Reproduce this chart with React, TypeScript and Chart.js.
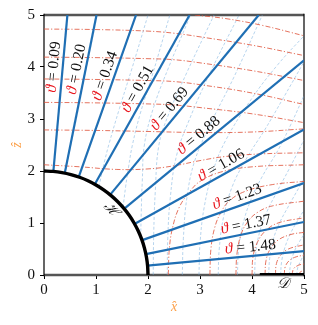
import React, { useEffect, useRef } from 'react';
import { Chart, registerables } from 'chart.js';
Chart.register(...registerables);

// ---- data ----
const X_TICKS = [0, 1, 2, 3, 4, 5];
const Y_TICKS = [0, 1, 2, 3, 4, 5];
const THETA = [0.09, 0.2, 0.34, 0.51, 0.69, 0.88, 1.06, 1.23, 1.37, 1.48];
const THETA_TEXT = ['0.09', '0.20', '0.34', '0.51', '0.69', '0.88', '1.06', '1.23', '1.37', '1.48'];
const RAY_X0 = [0.18, 0.4, 0.67, 0.98, 1.27, 1.54, 1.74, 1.89, 1.96, 1.99];
const RAY_Y0 = [1.99, 1.96, 1.89, 1.75, 1.54, 1.27, 0.98, 0.67, 0.4, 0.18];
const RAY_X1 = [0.45, 1.01, 1.77, 2.8, 4.13, 5, 5, 5, 5, 5];
const RAY_Y1 = [5, 5, 5, 5, 5, 4.13, 2.8, 1.77, 1.02, 0.46];

const HORIZON_X = [0, 0.1743, 0.3473, 0.5176, 0.684, 0.8452, 1.0, 1.1472, 1.2856, 1.4142, 1.5321, 1.6383, 1.7321, 1.8126, 1.8794, 1.9319, 1.9696, 1.9924, 2];
const HORIZON_Y = [2, 1.9924, 1.9696, 1.9319, 1.8794, 1.8126, 1.7321, 1.6383, 1.5321, 1.4142, 1.2856, 1.1472, 1.0, 0.8452, 0.684, 0.5176, 0.3473, 0.1743, 0];
const DISK_X = [4.15, 5];
const DISK_Y = [0, 0];

type P = [number, number];
// red dash-dot curves (upper family)
const RED_A0: P[] = [[2.9, 5.0], [3.5, 4.93], [4.2, 4.8], [5, 4.6]];
const RED_A1: P[] = [[0, 4.73], [1, 4.72], [2, 4.69], [2.5, 4.65], [3, 4.58], [4, 4.42], [5, 4.22]];
const RED_A2: P[] = [[0, 4.19], [1, 4.18], [2, 4.16], [2.5, 4.14], [3, 4.08], [4, 3.93], [5, 3.74]];
const RED_A3: P[] = [[0, 3.77], [1, 3.76], [2, 3.74], [2.5, 3.72], [3, 3.66], [4, 3.5], [5, 3.28]];
const RED_A4: P[] = [[0, 3.32], [1, 3.31], [2, 3.29], [2.5, 3.27], [3, 3.22], [4, 3.1], [5, 2.93]];
const RED_A5: P[] = [[0, 2.79], [1, 2.78], [2, 2.76], [3, 2.74], [4, 2.75], [5, 2.81]];
const RED_A6: P[] = [[0, 2.12], [0.7, 2.08], [1.4, 2.03], [2, 2.04], [2.5, 2.1], [3, 2.2], [3.5, 2.28], [4.2, 2.33], [5, 2.35]];
// red dash-dot curves (lower-right family)
const RED_B1: P[] = [[2.39, 0], [2.41, 0.5], [2.47, 0.9], [2.6, 1.3], [2.8, 1.6], [3.0, 1.8], [3.4, 1.98], [4.0, 2.08], [5, 2.12]];
const RED_B2: P[] = [[3.19, 0], [3.21, 0.5], [3.28, 0.9], [3.4, 1.2], [3.58, 1.44], [3.9, 1.62], [4.4, 1.74], [5, 1.8]];
const RED_B3: P[] = [[3.69, 0], [3.71, 0.4], [3.78, 0.75], [3.9, 1.0], [4.1, 1.2], [4.4, 1.33], [5, 1.42]];
const RED_B4: P[] = [[4.0, 0], [4.02, 0.35], [4.1, 0.62], [4.25, 0.84], [4.5, 1.0], [5, 1.1]];
const RED_B5: P[] = [[4.25, 0], [4.27, 0.28], [4.35, 0.5], [4.5, 0.67], [4.75, 0.78], [5, 0.82]];
const RED_B6: P[] = [[4.45, 0], [4.47, 0.22], [4.55, 0.38], [4.7, 0.5], [5, 0.58]];
const RED_B7: P[] = [[4.62, 0], [4.64, 0.16], [4.72, 0.28], [4.85, 0.35], [5, 0.38]];
const RED_B8: P[] = [[4.77, 0], [4.8, 0.12], [4.9, 0.19], [5, 0.21]];
const RED_B9: P[] = [[4.9, 0], [4.93, 0.06], [5, 0.08]];
// light-blue dashed curves
const BLUE_D1: P[] = [[1.06, 1.7], [1.12, 2.0], [1.17, 2.21], [1.25, 2.52], [1.45, 3.2], [1.7, 4.0], [2.0, 5.0]];
const BLUE_D2: P[] = [[1.52, 1.3], [1.57, 1.7], [1.63, 2.1], [1.7, 2.5], [1.85, 3.1], [2.1, 3.9], [2.42, 5.0]];
const BLUE_D3: P[] = [[1.86, 0.74], [1.87, 1.2], [1.89, 1.8], [1.93, 2.5], [2.1, 3.2], [2.4, 4.0], [2.82, 5.0]];
const BLUE_D4: P[] = [[2.1, 0], [2.11, 0.8], [2.14, 1.6], [2.21, 2.5], [2.4, 3.1], [2.75, 3.9], [3.27, 5.0]];
const BLUE_D5: P[] = [[2.37, 0], [2.38, 0.7], [2.43, 1.5], [2.55, 2.3], [2.8, 3.0], [3.2, 3.9], [3.75, 5.0]];
const BLUE_D6: P[] = [[2.66, 0], [2.68, 0.7], [2.75, 1.5], [2.9, 2.2], [3.2, 2.9], [3.65, 3.8], [4.2, 5.0]];
const BLUE_D7: P[] = [[2.98, 0], [3.0, 0.6], [3.08, 1.3], [3.25, 2.0], [3.5, 2.6], [4.0, 3.4], [4.5, 4.05], [5, 4.6]];
const BLUE_D8: P[] = [[3.35, 0], [3.37, 0.5], [3.45, 1.1], [3.62, 1.7], [3.9, 2.25], [4.25, 2.8], [4.6, 3.4], [5, 4.1]];
const BLUE_D9: P[] = [[3.72, 0], [3.74, 0.45], [3.82, 0.95], [3.98, 1.45], [4.2, 1.9], [4.5, 2.4], [4.75, 2.9], [5, 3.45]];
const BLUE_D10: P[] = [[4.05, 0], [4.07, 0.4], [4.14, 0.8], [4.28, 1.2], [4.48, 1.6], [4.72, 2.05], [5, 2.6]];
const BLUE_D11: P[] = [[4.32, 0], [4.34, 0.32], [4.4, 0.65], [4.52, 0.98], [4.7, 1.32], [5, 1.85]];
const BLUE_D12: P[] = [[4.55, 0], [4.57, 0.26], [4.63, 0.52], [4.74, 0.8], [4.88, 1.05], [5, 1.25]];
const BLUE_D13: P[] = [[4.72, 0], [4.74, 0.2], [4.8, 0.42], [4.9, 0.62], [5, 0.78]];
const BLUE_D14: P[] = [[4.86, 0], [4.88, 0.14], [4.95, 0.3], [5, 0.4]];

const RED_CURVES = [RED_A0, RED_A1, RED_A2, RED_A3, RED_A4, RED_A5, RED_A6, RED_B1, RED_B2, RED_B3, RED_B4, RED_B5, RED_B6, RED_B7, RED_B8, RED_B9];
const BLUE_CURVES = [BLUE_D1, BLUE_D2, BLUE_D3, BLUE_D4, BLUE_D5, BLUE_D6, BLUE_D7, BLUE_D8, BLUE_D9, BLUE_D10, BLUE_D11, BLUE_D12, BLUE_D13, BLUE_D14];

// ---- styles ----
const SERIF = '"Liberation Serif", "DejaVu Serif", serif';
const RED = 'rgba(222,80,55,0.8)';
const LIGHT_BLUE = 'rgba(110,170,220,0.55)';
const C0 = '#1f6fb4';
const ORANGE = '#fca049';

const pts = (c: P[]) => c.map(([x, y]) => ({ x, y }));

const framePlugin = {
  id: 'frame',
  beforeDatasetsDraw(chart: any) {
    const { ctx, chartArea: a } = chart;
    ctx.save();
    ctx.strokeStyle = '#555';
    ctx.lineWidth = 2.4;
    ctx.beginPath();
    ctx.moveTo(a.left, a.top); ctx.lineTo(a.right, a.top);
    ctx.moveTo(a.left, a.bottom); ctx.lineTo(a.right, a.bottom);
    ctx.stroke();
    ctx.strokeStyle = '#000';
    ctx.lineWidth = 1.2;
    ctx.beginPath();
    ctx.moveTo(a.left, a.top - 1.2); ctx.lineTo(a.left, a.bottom + 1.2);
    ctx.moveTo(a.right, a.top - 1.2); ctx.lineTo(a.right, a.bottom + 1.2);
    ctx.stroke();
    ctx.restore();
  },
  afterDatasetsDraw(chart: any) {
    const { ctx, scales: { x, y } } = chart;
    ctx.save();
    ctx.textBaseline = 'middle';
    const fItal = `italic 15.5px ${SERIF}`;
    const fReg = `15.5px ${SERIF}`;
    THETA.forEach((t, i) => {
      const r = 4;
      let cx = x.getPixelForValue(r * Math.sin(t));
      let cy = y.getPixelForValue(r * Math.cos(t));
      const off = 9;
      cx += -Math.cos(t) * off;
      cy += -Math.sin(t) * off;
      const ang = Math.atan2(-Math.cos(t), Math.sin(t));
      ctx.save();
      ctx.translate(cx, cy);
      ctx.rotate(ang);
      ctx.font = fItal;
      const w1 = ctx.measureText('ϑ').width;
      ctx.font = fReg;
      const rest = ' = ' + THETA_TEXT[i];
      const w2 = ctx.measureText(rest).width;
      const s = -(w1 + w2) / 2;
      ctx.textAlign = 'left';
      ctx.font = fItal;
      ctx.fillStyle = '#e8141c';
      ctx.fillText('ϑ', s, 0);
      ctx.font = fReg;
      ctx.fillStyle = '#111';
      ctx.fillText(rest, s + w1, 0);
      ctx.restore();
    });
    // horizon label
    ctx.save();
    ctx.translate(x.getPixelForValue(1.28), y.getPixelForValue(1.26));
    ctx.rotate(Math.PI / 4);
    ctx.font = `italic 14px ${SERIF}`;
    ctx.fillStyle = '#111';
    ctx.textAlign = 'center';
    ctx.fillText('ℋ', 0, 0);
    ctx.restore();
    // disk label
    ctx.font = `italic 15px ${SERIF}`;
    ctx.fillStyle = '#111';
    ctx.textAlign = 'center';
    ctx.fillText('𝒟', x.getPixelForValue(4.6), y.getPixelForValue(-0.17));
    // axis titles
    ctx.fillStyle = ORANGE;
    ctx.font = `italic 14px ${SERIF}`;
    ctx.fillText('x̂', (x.left + x.right) / 2, 307);
    ctx.save();
    ctx.translate(17, (y.top + y.bottom) / 2);
    ctx.rotate(-Math.PI / 2);
    ctx.fillText('ẑ', 0, 0);
    ctx.restore();
    ctx.restore();
  },
};

export default function App() {
  const ref = useRef<HTMLCanvasElement | null>(null);
  useEffect(() => {
    document.body.style.margin = '0';
    const datasets: any[] = [];
    BLUE_CURVES.forEach((c) =>
      datasets.push({ data: pts(c), borderColor: LIGHT_BLUE, borderWidth: 0.9, borderDash: [3, 2], tension: 0.4, order: 4 })
    );
    RED_CURVES.forEach((c) =>
      datasets.push({ data: pts(c), borderColor: RED, borderWidth: 1, borderDash: [5, 2, 1.2, 2], tension: 0.4, order: 3 })
    );
    THETA.forEach((_, i) =>
      datasets.push({
        data: [{ x: RAY_X0[i], y: RAY_Y0[i] }, { x: RAY_X1[i], y: RAY_Y1[i] }],
        borderColor: C0, borderWidth: 2.2, tension: 0, order: 2,
      })
    );
    datasets.push({
      data: HORIZON_X.map((v, i) => ({ x: v, y: HORIZON_Y[i] })),
      borderColor: '#000', borderWidth: 3.4, tension: 0.3, order: 1,
    });
    datasets.push({
      data: DISK_X.map((v, i) => ({ x: v, y: DISK_Y[i] })),
      borderColor: '#000', borderWidth: 4, tension: 0, order: 0,
    });
    const tickFont = { family: SERIF, size: 15 };
    const chart = new Chart(ref.current as HTMLCanvasElement, {
      type: 'line',
      data: { datasets },
      options: {
        responsive: false,
        animation: false,
        devicePixelRatio: 1,
        events: [],
        layout: { padding: { top: 15, right: 14, left: 0, bottom: 0 } },
        elements: { point: { radius: 0, hoverRadius: 0 }, line: { fill: false } },
        plugins: { legend: { display: false }, tooltip: { enabled: false } },
        scales: {
          x: {
            type: 'linear', min: 0, max: 5,
            afterBuildTicks: (s: any) => { s.ticks = X_TICKS.map((v) => ({ value: v })); },
            afterFit: (s: any) => { s.height = 50; },
            ticks: { font: tickFont, color: '#111', padding: 2, maxRotation: 0, callback: (v: any) => String(v) },
            grid: { drawOnChartArea: false, drawTicks: true, tickLength: 4, color: '#000', lineWidth: 1 },
            border: { display: false },
          },
          y: {
            type: 'linear', min: 0, max: 5,
            afterBuildTicks: (s: any) => { s.ticks = Y_TICKS.map((v) => ({ value: v })); },
            afterFit: (s: any) => { s.width = 44; },
            ticks: { font: tickFont, color: '#111', padding: 5, callback: (v: any) => String(v) },
            grid: { drawOnChartArea: false, drawTicks: true, tickLength: 4, color: '#000', lineWidth: 1 },
            border: { display: false },
          },
        },
      },
      plugins: [framePlugin],
    } as any);
    return () => chart.destroy();
  }, []);
  return (
    <div style={{ width: 318, height: 325 }}>
      <canvas ref={ref} width={318} height={325} style={{ width: 318, height: 325, display: 'block' }} />
    </div>
  );
}
